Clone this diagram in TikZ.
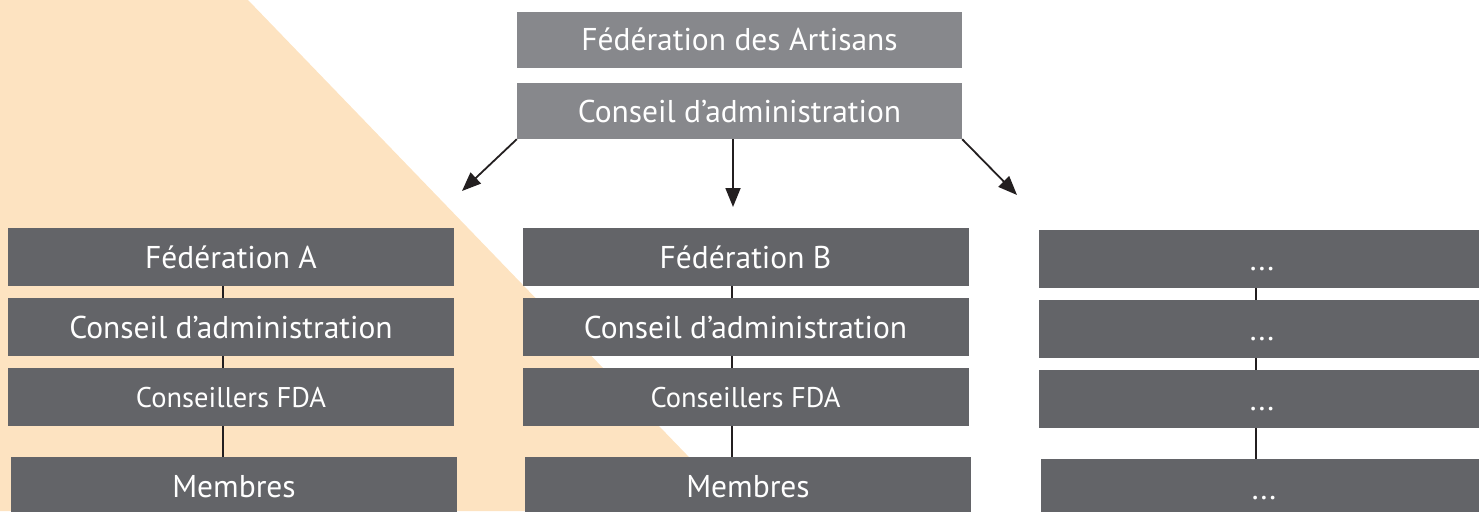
\documentclass[tikz,border=0pt]{standalone}
\usepackage{fontspec}
\setmainfont{PT Sans}
\usetikzlibrary{arrows.meta}
\definecolor{orangebg}{HTML}{FDE3C1}
\definecolor{topgray}{HTML}{87888C}
\definecolor{boxgray}{HTML}{636468}
\definecolor{linek}{HTML}{231F20}
\begin{document}
\begin{tikzpicture}[x=1pt,y=-1pt,
  box/.style={fill=boxgray, text=white, inner sep=0pt, minimum width=446pt, minimum height=58pt, text height=22pt, text depth=0pt, font=\fontsize{31.5}{34}\selectfont},
  smallbox/.style={box, text height=20pt, font=\fontsize{28.5}{31}\selectfont},
  topbox/.style={box, fill=topgray, minimum width=445pt, minimum height=56pt},
  link/.style={draw=linek, line width=1.8pt},
  arr/.style={link, -{Triangle[length=19pt,width=15pt]}}]
\useasboundingbox (0,0) rectangle (1479,511);
\fill[orangebg] (0,0) -- (248,0) -- (741,511) -- (0,511) -- cycle;

% top
\node[topbox] (fda) at (739.5,40) {Fédération des Artisans};
\node[topbox] (cat) at (739.5,111) {Conseil d’administration};

% column A
\node[box] (fa) at (231,257) {Fédération A};
\node[box] (ca) at (231,327) {Conseil d’administration};
\node[smallbox] (sa) at (231,397) {Conseillers FDA};
\node[box] (ma) at (234,486) {Membres};

% column B
\node[box] (fb) at (745.5,257) {Fédération B};
\node[box] (cb) at (745.5,327) {Conseil d’administration};
\node[smallbox] (sb) at (745.5,397) {Conseillers FDA};
\node[box] (mb) at (748,486) {Membres};

% column C
\node[box] (fc) at (1262,259) {...};
\node[box] (cc) at (1262,329) {...};
\node[box] (sc) at (1262,399) {...};
\node[box] (mc) at (1264,488) {...};

% line positions
\coordinate (lA) at (223,0);
\coordinate (lB) at (732,0);
\coordinate (lC) at (1256,0);

\draw[link] (fa.south -| lA) -- (ca.north -| lA);
\draw[link] (ca.south -| lA) -- (sa.north -| lA);
\draw[link] (sa.south -| lA) -- (ma.north -| lA);

\draw[link] (fb.south -| lB) -- (cb.north -| lB);
\draw[link] (cb.south -| lB) -- (sb.north -| lB);
\draw[link] (sb.south -| lB) -- (mb.north -| lB);

\draw[link] (fc.south -| lC) -- (cc.north -| lC);
\draw[link] (cc.south -| lC) -- (sc.north -| lC);
\draw[link] (sc.south -| lC) -- (mc.north -| lC);

% arrows
\coordinate (tipL) at (462,191);
\coordinate (tipM) at (733,207);
\coordinate (tipR) at (1017,195);
\draw[arr] (cat.south west) -- (tipL);
\draw[arr] (cat.south -| tipM) -- (tipM);
\draw[arr] (cat.south east) -- (tipR);
\end{tikzpicture}
\end{document}
